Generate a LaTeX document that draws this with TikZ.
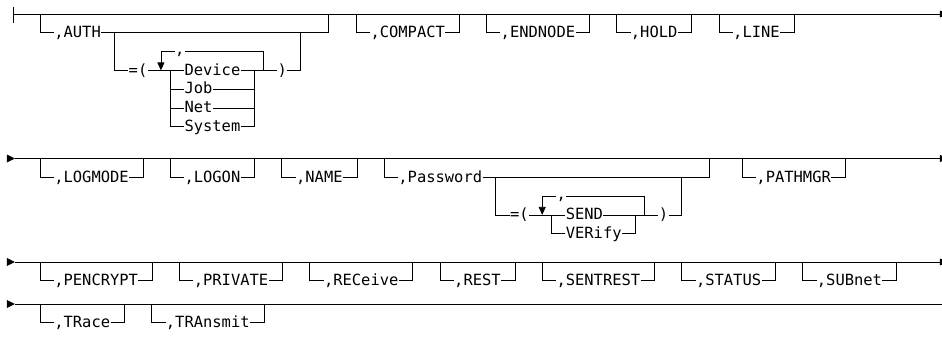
\documentclass[tikz,border=0pt]{standalone}
\usepackage{fontspec}
\setmonofont{DejaVu Sans Mono}
\usetikzlibrary{arrows.meta}
\begin{document}
\begin{tikzpicture}[x=9.3pt, y=-1pt, line width=0.75pt,
  opt/.style={inner sep=0pt, text height=9.5pt, text depth=0pt, anchor=west,
    font=\ttfamily\fontsize{15.45}{18}\selectfont},
  sep/.style={opt, text height=6pt},
  down/.style={-{Triangle[width=7pt,length=8pt]}}]
  \def\s{18.8}
  \def\ra{14}
  \def\rb{158.5}
  \def\rc{262}
  \def\rd{304}
  \useasboundingbox (-4.3011,0) rectangle (96.9892,340);
  % main lines
  \coordinate (b1) at (-2.9,\ra);
  \coordinate (e1) at (97,\ra);
  \draw (-2.9,\ra-7) -- (-2.9,\ra+9);
  \draw (b1) -- (e1);
  \foreach \r/\n in {\rb/2,\rc/3,\rd/4}{
    \coordinate (b\n) at (-2.69,\r);
    \coordinate (e\n) at (97,\r);
    \fill (-3.55,\r-4) -- (b\n) -- (-3.55,\r+4) -- cycle;
    \draw (b\n) -- (e\n);
  }
  \foreach \r in {\ra,\rb,\rc}
    \fill (96.77,\r-3.5) -- (97.7,\r) -- (96.77,\r+3.5) -- cycle;
  % simple options
  \foreach \n/\c/\r/\t in {
    compact/34/\ra/COMPACT, endnode/48/\ra/ENDNODE, hold/62/\ra/HOLD, line/73/\ra/LINE,
    logmode/0/\rb/LOGMODE, logon/14/\rb/LOGON, name/26/\rb/NAME, pathmgr/75.5/\rb/PATHMGR,
    pencrypt/0/\rc/PENCRYPT, private/15/\rc/PRIVATE, receive/29/\rc/RECeive, rest/43/\rc/REST,
    sentrest/54/\rc/SENTREST, status/69/\rc/STATUS, subnet/82/\rc/SUBnet,
    trace/0/\rd/TRace, transmit/12/\rd/TRAnsmit}{
    \node[opt] (\n) at (\c+1.5,\r+\s) {,\t};
    \draw (\n.west) -| ++(-1.5,-\s);
    \draw (\n.east) -| ++(1.5,-\s);
  }
  % AUTH
  \node[opt] (auth) at (1.5,\ra+\s) {,AUTH};
  \draw (auth.west) -| (0,\ra);
  \draw (auth.east) -| (31,\ra);
  \node[opt] (aeq) at (9.5,\ra+3*\s) {=(};
  \draw (8,\ra+\s) |- (aeq.west);
  \node[sep] (acomma) at (14.5,\ra+2*\s) {,};
  \draw[down] (acomma.west) -| (13,\ra+3*\s);
  \draw (acomma.east) -| (24,\ra+3*\s);
  \node[opt] (adev) at (15.5,\ra+3*\s) {Device};
  \node[opt] (ajob) at (15.5,\ra+4*\s) {Job};
  \node[opt] (anet) at (15.5,\ra+5*\s) {Net};
  \node[opt] (asys) at (15.5,\ra+6*\s) {System};
  \node[opt] (apar) at (25.5,\ra+3*\s) {)};
  \draw (aeq.east) -- (adev.west);
  \draw (adev.east) -- (apar.west);
  \draw (apar.east) -| (28,\ra+\s);
  \foreach \n in {ajob,anet,asys}{
    \draw (14,\ra+3*\s) |- (\n.west);
    \draw (\n.east) -| (23,\ra+3*\s);
  }
  % Password
  \node[opt] (pw) at (38.5,\rb+\s) {,Password};
  \draw (pw.west) -| (37,\rb);
  \draw (pw.east) -| (72,\rb);
  \node[opt] (peq) at (50.5,\rb+3*\s) {=(};
  \draw (49,\rb+\s) |- (peq.west);
  \node[sep] (pcomma) at (55.5,\rb+2*\s) {,};
  \draw[down] (pcomma.west) -| (54,\rb+3*\s);
  \draw (pcomma.east) -| (65,\rb+3*\s);
  \node[opt] (psend) at (56.5,\rb+3*\s) {SEND};
  \node[opt] (pver) at (56.5,\rb+4*\s) {VERify};
  \node[opt] (ppar) at (66.5,\rb+3*\s) {)};
  \draw (peq.east) -- (psend.west);
  \draw (psend.east) -- (ppar.west);
  \draw (ppar.east) -| (69,\rb+\s);
  \draw (55,\rb+3*\s) |- (pver.west);
  \draw (pver.east) -| (64,\rb+3*\s);
\end{tikzpicture}
\end{document}
